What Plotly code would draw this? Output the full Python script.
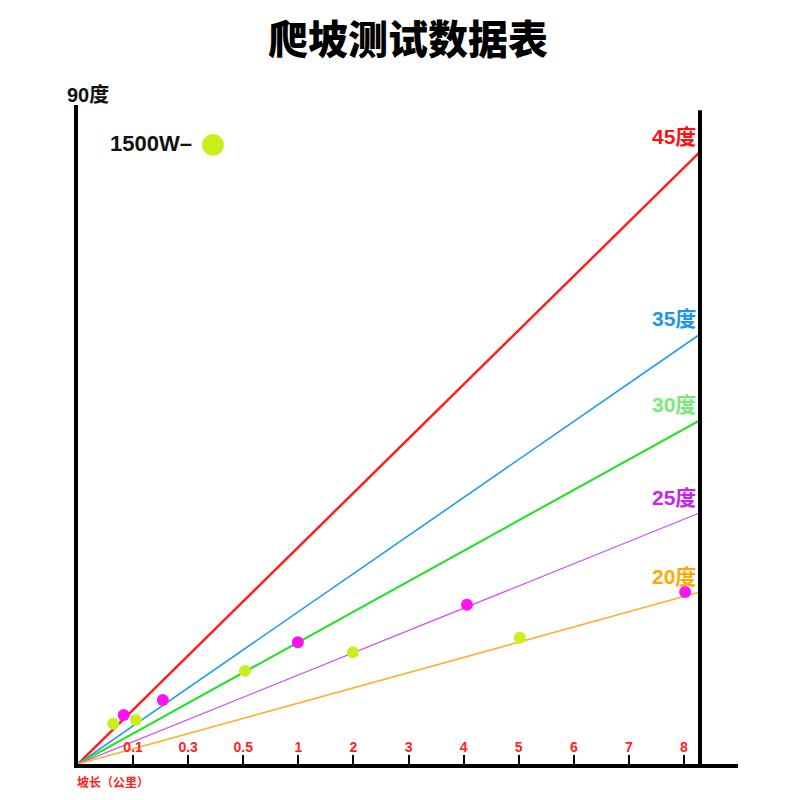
import plotly.graph_objects as go

# slope lines (x in tick-index units, y same scale)
angle_labels = ["45度", "35度", "30度", "25度", "20度"]
line_end_x = 11.29
line_end_y = [11.11, 7.80, 6.24, 4.56, 3.12]
line_colors = ["#ff1f1f", "#1e9bef", "#2ee02e", "#d050ee", "#ffb030"]
line_widths = [2.5, 1.6, 2.2, 1.2, 1.6]
label_colors = ["#ff1111", "#1f95f0", "#7ae87a", "#cc22ee", "#ffa800"]

# x axis ticks
tick_pos = [1, 2, 3, 4, 5, 6, 7, 8, 9, 10, 11]
tick_text = ["0.1", "0.3", "0.5", "1", "2", "3", "4", "5", "6", "7", "8"]

# test points
pink_x = [0.83, 1.54, 3.99, 7.06, 11.02]
pink_y = [0.89, 1.16, 2.21, 2.89, 3.12]
lime_x = [0.64, 1.05, 3.03, 4.99, 8.02]
lime_y = [0.73, 0.80, 1.69, 2.03, 2.29]

CJK = "Noto Sans CJK SC"
MIX = "Liberation Sans, Noto Sans CJK SC"

fig = go.Figure()
for lab, ye, c, w in zip(angle_labels, line_end_y, line_colors, line_widths):
    fig.add_trace(go.Scatter(x=[0, line_end_x], y=[0, ye], mode="lines",
                             line=dict(color=c, width=w), name=lab,
                             showlegend=False, hoverinfo="skip"))

fig.add_trace(go.Scatter(x=pink_x, y=pink_y, mode="markers",
                         marker=dict(color="#ff12f2", size=12),
                         showlegend=False))
fig.add_trace(go.Scatter(x=lime_x, y=lime_y, mode="markers",
                         marker=dict(color="#c9ef1c", size=12),
                         showlegend=False))

# angle labels at the right end of each line
for lab, ye, c in zip(angle_labels, line_end_y, label_colors):
    fig.add_annotation(x=line_end_x, y=ye, xref="x", yref="y", text=lab,
                       showarrow=False, xanchor="right", yanchor="bottom",
                       yshift=2, xshift=-2,
                       font=dict(family=MIX, size=21, color=c, weight="bold"))

# right border line
fig.add_shape(type="line", xref="x", yref="paper", x0=line_end_x, x1=line_end_x,
              y0=0, y1=0.992, line=dict(color="black", width=4))

# legend-like label
fig.add_annotation(x=0.046, y=0.941, xref="paper", yref="paper",
                   text="1500W–", showarrow=False, xanchor="left", yanchor="middle",
                   font=dict(family=MIX, size=22, color="#111111", weight="bold"))
fig.add_shape(type="circle", xref="paper", yref="paper",
              x0=0.188, x1=0.221, y0=0.923, y1=0.956,
              fillcolor="#c9ef1c", line=dict(width=0))

fig.add_annotation(x=-0.019, y=1.015, xref="paper", yref="paper",
                   text="90度", showarrow=False, xanchor="left", yanchor="middle",
                   font=dict(family=MIX, size=20, color="#111111", weight="bold"))
fig.add_annotation(x=-0.005, y=-0.027, xref="paper", yref="paper",
                   text="坡长（公里）", showarrow=False, xanchor="left", yanchor="middle",
                   font=dict(family=CJK, size=12, color="#ff2222", weight="bold"))

fig.update_layout(
    width=800, height=800,
    paper_bgcolor="white", plot_bgcolor="white",
    margin=dict(l=70, r=70, t=97, b=44),
    title=dict(text="爬坡测试数据表", x=0.5, xanchor="center", y=1 - 32/800,
               yanchor="middle",
               font=dict(family=CJK, size=40, color="black", weight=900)),
    xaxis=dict(range=[0, 11.98], showgrid=False, zeroline=False,
               showline=True, linecolor="black", linewidth=4,
               tickvals=tick_pos, ticktext=tick_text,
               ticks="inside", ticklen=9, tickwidth=2, tickcolor="black",
               ticklabelposition="inside",
               tickfont=dict(family=MIX, size=14, color="#ff2222", weight="bold")),
    yaxis=dict(range=[0, 11.96], showgrid=False, zeroline=False,
               showline=True, linecolor="black", linewidth=4,
               showticklabels=False, ticks=""),
)

fig.write_html("out.html")
